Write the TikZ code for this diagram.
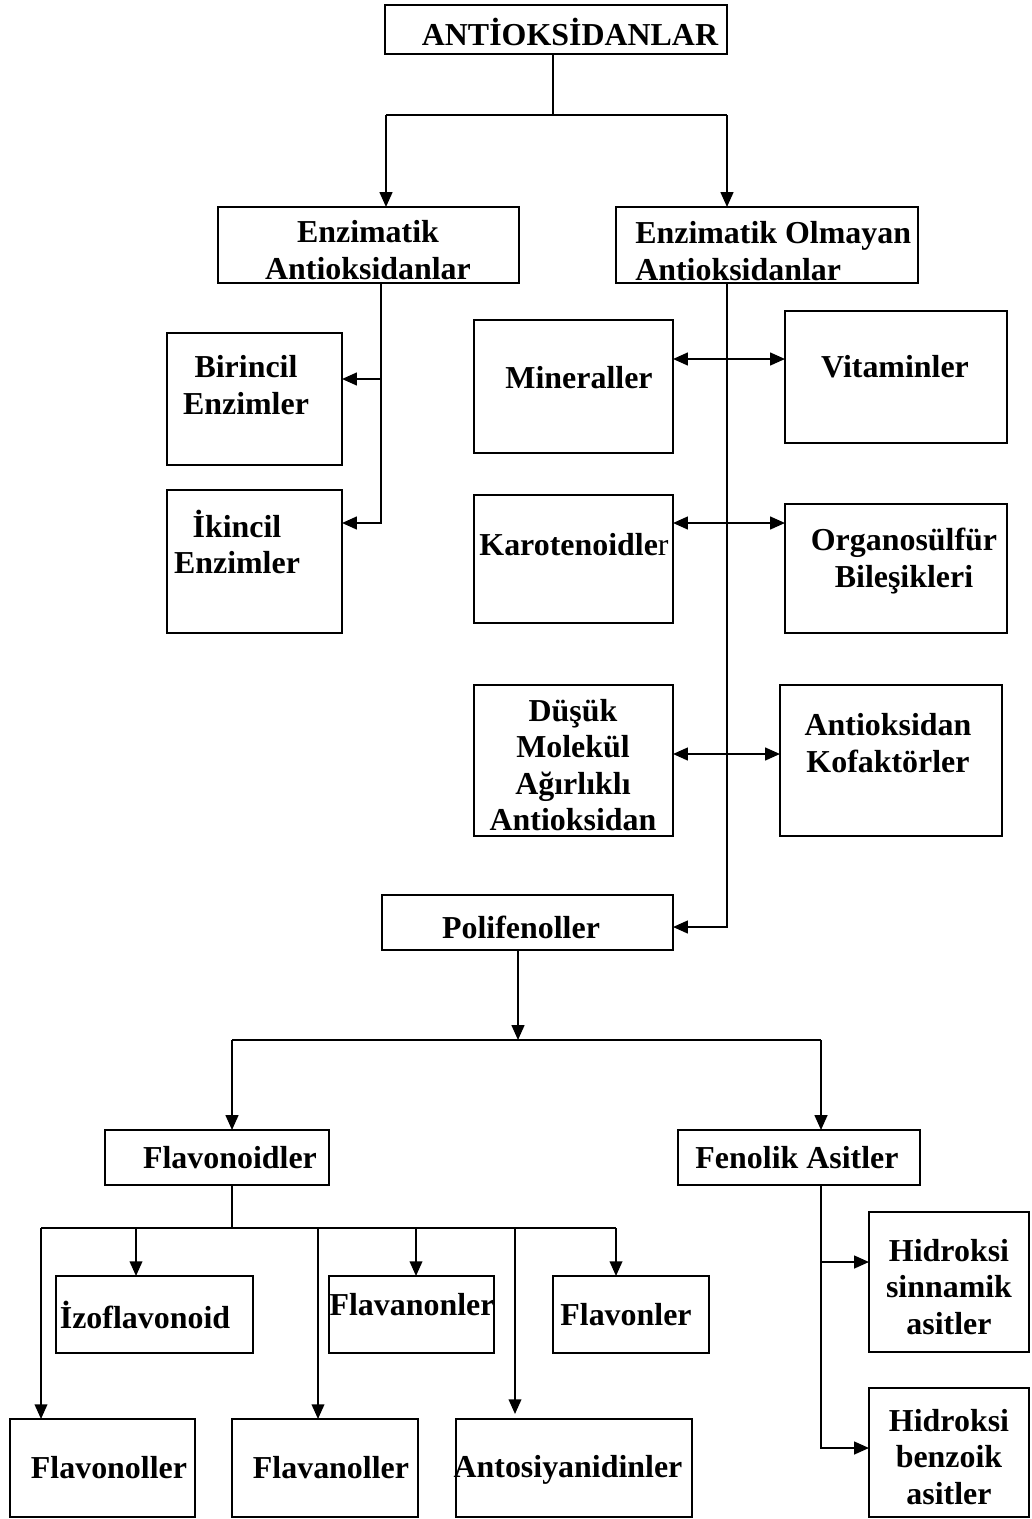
\documentclass[tikz,border=0pt]{standalone}
\usepackage{fontspec}
\setmainfont{Liberation Serif}
\usetikzlibrary{arrows.meta,fit}
\tikzset{
  box/.style={draw, line width=1.4pt, inner sep=0pt, outer sep=0pt},
  txt/.style={font=\fontsize{22.7}{25.8}\selectfont\bfseries, align=center, inner sep=0pt},
  ln/.style={line width=1.4pt},
  arr/.style={line width=1.4pt, -{Triangle[length=10.5pt,width=9pt]}},
  darr/.style={line width=1.4pt, {Triangle[length=10.5pt,width=9pt]}-{Triangle[length=10.5pt,width=9pt]}}
}
\newcommand{\mkbox}[5]{\node[box, fit={(#2,#3) (#4,#5)}] (#1) {};}
\begin{document}
\begin{tikzpicture}[x=0.025cm,y=-0.025cm]
\useasboundingbox (0,0) rectangle (1032,1519);
\fill[white] (0,0) rectangle (1032,1519);
% boxes
\mkbox{anti}{385}{5}{727}{54}
\mkbox{enz}{218}{207}{519}{283}
\mkbox{eo}{616}{207}{918}{283}
\mkbox{bir}{167}{333}{342}{465}
\mkbox{iki}{167}{490}{342}{633}
\mkbox{min}{474}{320}{673}{453}
\mkbox{vit}{785}{311}{1007}{443}
\mkbox{kar}{474}{495}{673}{623}
\mkbox{org}{785}{504}{1007}{633}
\mkbox{dus}{474}{685}{673}{836}
\mkbox{kof}{780}{685}{1002}{836}
\mkbox{pol}{382}{895}{673}{950}
\mkbox{flvd}{105}{1130}{329}{1185}
\mkbox{fen}{678}{1130}{920}{1185}
\mkbox{izo}{56}{1276}{253}{1353}
\mkbox{flvn}{329}{1276}{494}{1353}
\mkbox{flvo}{553}{1276}{709}{1353}
\mkbox{flvl}{10}{1419}{195}{1517}
\mkbox{flnl}{232}{1419}{418}{1517}
\mkbox{ant}{456}{1419}{692}{1517}
\mkbox{hsin}{869}{1212}{1029}{1352}
\mkbox{hben}{869}{1388}{1029}{1517}
% texts
\node[txt] (antit) at (570,32) {ANTİOKSİDANLAR};
\node[txt] (enzt) at (368,250) {Enzimatik\\Antioksidanlar};
\node[txt, align=left, anchor=west] (eot) at (635,251) {Enzimatik Olmayan\\Antioksidanlar};
\node[txt] (birt) at (246,385) {Birincil\\Enzimler};
\node[txt] (ikit) at (237,542) {İkincil\\Enzimler};
\node[txt] (mint) at (579,378) {Mineraller};
\node[txt] (vitt) at (895,367) {Vitaminler};
\node[txt] (kart) at (574,545) {Karotenoidle{\mdseries r}};
\node[txt] (orgt) at (904,561) {Organosülfür\\Bileşikleri};
\node[txt] (dust) at (573,765) {Düşük\\Molekül\\Ağırlıklı\\Antioksidan};
\node[txt] (koft) at (888,743) {Antioksidan\\Kofaktörler};
\node[txt] (polt) at (521,927) {Polifenoller};
\node[txt] (flvdt) at (230,1158) {Flavonoidler};
\node[txt] (fent) at (797,1158) {Fenolik Asitler};
\node[txt] (izot) at (145,1315) {İzoflavonoid};
\node[txt] (flvnt) at (412,1305) {Flavanonler};
\node[txt] (flvot) at (626,1315) {Flavonler};
\node[txt] (flvlt) at (109,1468) {Flavonoller};
\node[txt] (flnlt) at (331,1468) {Flavanoller};
\node[txt] (antt) at (568,1470) {Antosiyanidinler};
\node[txt] (hsint) at (949,1287) {Hidroksi\\sinnamik\\asitler};
\node[txt] (hbent) at (949,1457) {Hidroksi\\benzoik\\asitler};
% junctions
\coordinate (j1) at (553,115);
\coordinate (j2) at (518,1040);
\coordinate (j3) at (232,1228);
% connectors
\draw[ln] (553,0 |- anti.south) -- (j1);
\draw[ln] (386,115) -- (727,115);
\draw[arr] (386,115) -- (386,0 |- enz.north);
\draw[arr] (727,115) -- (727,0 |- eo.north);
\draw[arr] (381,0 |- enz.south) |- (iki.east |- 0,523);
\draw[arr] (381,379) -- (bir.east |- 0,379);
\draw[arr] (727,0 |- eo.south) |- (pol.east |- 0,927);
\draw[darr] (min.east |- 0,359) -- (vit.west |- 0,359);
\draw[darr] (kar.east |- 0,523) -- (org.west |- 0,523);
\draw[darr] (dus.east |- 0,754) -- (kof.west |- 0,754);
\draw[arr] (518,0 |- pol.south) -- (j2);
\draw[ln] (232,1040) -- (821,1040);
\draw[arr] (232,1040) -- (232,0 |- flvd.north);
\draw[arr] (821,1040) -- (821,0 |- fen.north);
\draw[ln] (232,0 |- flvd.south) -- (j3);
\draw[ln] (41,1228) -- (616,1228);
\draw[arr] (41,1228) -- (41,0 |- flvl.north);
\draw[arr] (136,1228) -- (136,0 |- izo.north);
\draw[arr] (318,1228) -- (318,0 |- flnl.north);
\draw[arr] (416,1228) -- (416,0 |- flvn.north);
\draw[arr] (515,1228) -- (515,1414);
\draw[arr] (616,1228) -- (616,0 |- flvo.north);
\draw[arr] (821,0 |- fen.south) |- (hben.west |- 0,1448);
\draw[arr] (821,1262) -- (hsin.west |- 0,1262);
\end{tikzpicture}
\end{document}
